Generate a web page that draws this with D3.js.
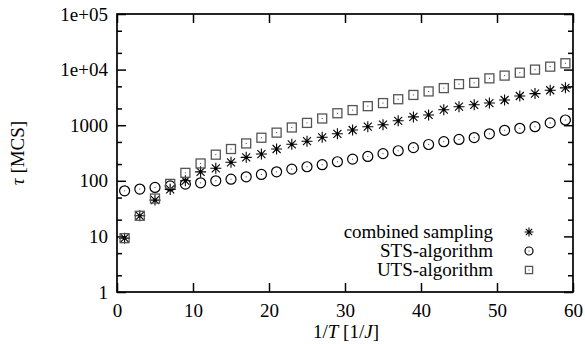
<!DOCTYPE html>
<html>
<head>
<meta charset="utf-8">
<script src="https://cdn.jsdelivr.net/npm/d3@7"></script>
<style>
  body { margin: 0; background: #fff; }
  svg { display: block; }
  .lbl { font-family: "Liberation Serif", "Times New Roman", serif; font-size: 19px; fill: #000; }
</style>
</head>
<body>
<svg id="chart" width="585" height="344"></svg>
<script>
// 1/T values (every other point)
var invT = [1, 3, 5, 7, 9, 11, 13, 15, 17, 19, 21, 23, 25, 27, 29,
            31, 33, 35, 37, 39, 41, 43, 45, 47, 49, 51, 53, 55, 57, 59];

// tau [MCS]
var combined = [9.3, 23.5, 45, 70, 100, 145, 168, 215, 264, 303, 373, 453, 515, 606, 700,
                820, 940, 1020, 1200, 1410, 1530, 1900, 2150, 2330, 2500, 2840, 3350, 3700, 4250, 4700];
var sts = [66, 71, 76, 81, 87, 92, 100, 107, 118, 130, 145, 162, 179, 195, 220,
           245, 274, 308, 347, 395, 450, 505, 555, 600, 700, 810, 880, 940, 1100, 1240];
var uts = [9.3, 23.5, 48, 88, 139, 205, 295, 373, 470, 595, 735, 910, 1100, 1320, 1640,
           1870, 2200, 2500, 2930, 3500, 4050, 4650, 5480, 5780, 6960, 7800, 8800, 10000, 11300, 13000];

var xTicks = [0, 10, 20, 30, 40, 50, 60];
var yTicks = [1, 10, 100, 1000, 1e4, 1e5];
var yTickLabels = ["1", "10", "100", "1000", "1e+04", "1e+05"];
var yMinor = [2, 5, 20, 50, 200, 500, 2000, 5000, 2e4, 5e4];
var legendNames = ["combined sampling", "STS-algorithm", "UTS-algorithm"];

var svg = d3.select("#chart");
var plotL = 117, plotR = 573, plotT = 14, plotB = 292;

var x = d3.scaleLinear().domain([0, 60]).range([plotL, plotR]);
var y = d3.scaleLog().domain([1, 1e5]).range([plotB, plotT]);

function styleAxis(g) {
  g.attr("font-family", null).attr("font-size", null);
  g.select(".domain").remove();
  g.selectAll(".tick line").attr("stroke", "#000").attr("stroke-width", 1.5);
  g.selectAll("text").attr("class", "lbl").attr("fill", null);
}

// bottom / top
svg.append("g").attr("transform", "translate(0," + plotB + ")")
  .call(d3.axisBottom(x).tickValues(xTicks).tickSize(-9).tickPadding(12).tickFormat(d3.format("d")))
  .call(styleAxis);
svg.append("g").attr("transform", "translate(0," + plotT + ")")
  .call(d3.axisTop(x).tickValues(xTicks).tickSize(-9).tickFormat(""))
  .call(styleAxis);

// left / right majors
svg.append("g").attr("transform", "translate(" + plotL + ",0)")
  .call(d3.axisLeft(y).tickValues(yTicks).tickSize(-9).tickPadding(9)
    .tickFormat(function(d, i) { return yTickLabels[i]; }))
  .call(styleAxis);
svg.append("g").attr("transform", "translate(" + plotR + ",0)")
  .call(d3.axisRight(y).tickValues(yTicks).tickSize(-9).tickFormat(""))
  .call(styleAxis);
// minors
svg.append("g").attr("transform", "translate(" + plotL + ",0)")
  .call(d3.axisLeft(y).tickValues(yMinor).tickSize(-5).tickFormat(""))
  .call(styleAxis);
svg.append("g").attr("transform", "translate(" + plotR + ",0)")
  .call(d3.axisRight(y).tickValues(yMinor).tickSize(-5).tickFormat(""))
  .call(styleAxis);

// frame
svg.append("rect")
  .attr("x", plotL).attr("y", plotT)
  .attr("width", plotR - plotL).attr("height", plotB - plotT)
  .attr("fill", "none").attr("stroke", "#000").attr("stroke-width", 1.7);

// markers, k scales the size
function star(g, cx, cy, k) {
  var r = 5.5 * k, d = 4 * k;
  g.append("path")
    .attr("d", "M" + (cx - r) + "," + cy + "h" + (2 * r) +
               "M" + cx + "," + (cy - r) + "v" + (2 * r) +
               "M" + (cx - d) + "," + (cy - d) + "l" + (2 * d) + "," + (2 * d) +
               "M" + (cx - d) + "," + (cy + d) + "l" + (2 * d) + "," + (-2 * d))
    .attr("stroke", "#000").attr("stroke-width", 1.1).attr("fill", "none");
  g.append("circle").attr("cx", cx).attr("cy", cy).attr("r", 1.5 * k).attr("fill", "#000");
}
function ring(g, cx, cy, k) {
  g.append("circle").attr("cx", cx).attr("cy", cy).attr("r", 5 * k)
    .attr("fill", "none").attr("stroke", "#000").attr("stroke-width", 1.2);
  g.append("rect").attr("x", cx - 0.5).attr("y", cy - 0.5).attr("width", 1).attr("height", 1).attr("fill", "#444");
}
function box(g, cx, cy, k) {
  var h = 4.5 * k;
  g.append("rect").attr("x", cx - h).attr("y", cy - h).attr("width", 2 * h).attr("height", 2 * h)
    .attr("fill", "none").attr("stroke", "#555").attr("stroke-width", 1.3);
  g.append("rect").attr("x", cx - 0.5).attr("y", cy - 0.5).attr("width", 1).attr("height", 1).attr("fill", "#444");
}

var series = [
  { values: combined, draw: star },
  { values: sts, draw: ring },
  { values: uts, draw: box }
];

var pts = svg.append("g");
series.forEach(function(s) {
  s.values.forEach(function(v, i) {
    s.draw(pts, x(invT[i]), y(v), 1);
  });
});

// legend
var leg = svg.append("g");
legendNames.forEach(function(name, i) {
  var ly = 232 + i * 19;
  leg.append("text").attr("class", "lbl")
    .attr("x", 493).attr("y", ly).attr("dy", "0.32em")
    .attr("text-anchor", "end").text(name);
  series[i].draw(leg, 529, ly, 0.8);
});

// axis titles
var xt = svg.append("text").attr("class", "lbl")
  .attr("x", 346).attr("y", 338).attr("text-anchor", "middle");
xt.append("tspan").text("1/");
xt.append("tspan").attr("font-style", "italic").text("T");
xt.append("tspan").text(" [1/");
xt.append("tspan").attr("font-style", "italic").text("J");
xt.append("tspan").text("]");

var yt = svg.append("text").attr("class", "lbl")
  .attr("transform", "translate(18,153) rotate(-90)")
  .attr("dy", "0.32em").attr("text-anchor", "middle");
yt.append("tspan").attr("font-style", "italic").text("τ");
yt.append("tspan").text(" [MCS]");
</script>
</body>
</html>
